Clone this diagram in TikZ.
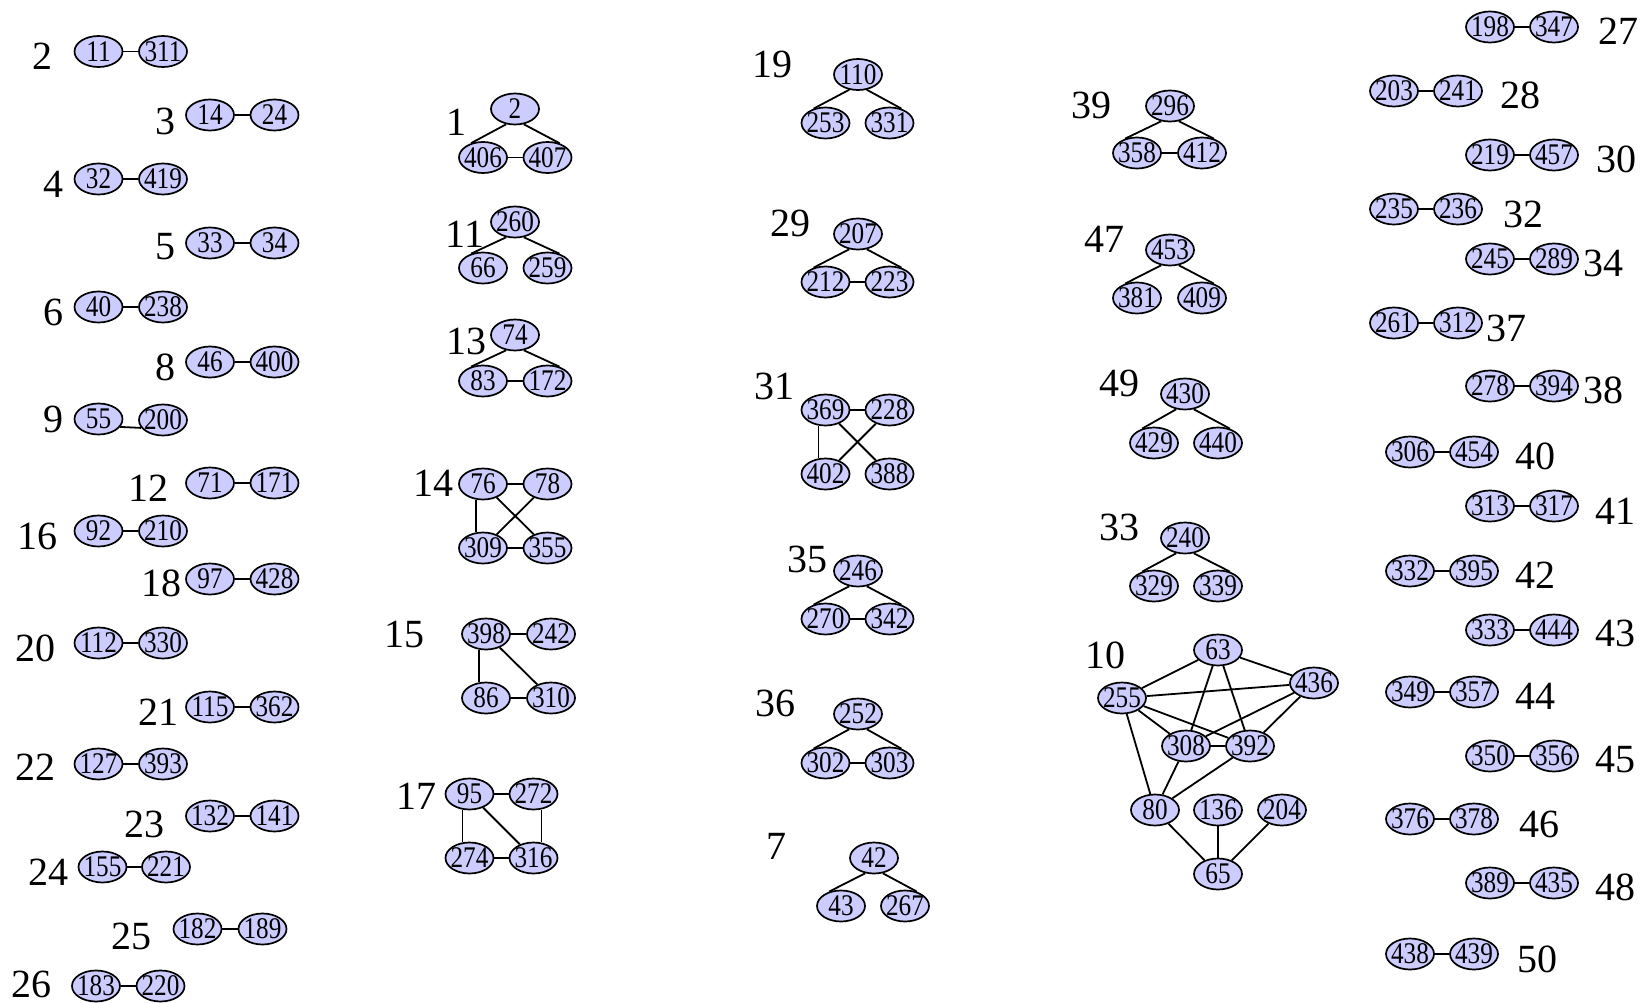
\documentclass[tikz,border=0pt]{standalone}
\usepackage{fontspec}
\usepackage{graphicx}
\setmainfont{Liberation Serif}
\usetikzlibrary{shapes.geometric}
\definecolor{vfill}{RGB}{204,204,255}
\tikzset{
  v/.style={ellipse, draw=black, fill=vfill, line width=1.7pt, minimum width=48pt, minimum height=31pt, inner sep=0pt, font=\fontsize{30}{30}\selectfont},
  cl/.style={inner sep=0pt, font=\fontsize{40}{40}\selectfont},
  e/.style={line width=1.8pt, draw=black}
}
\newcommand\mkv[3]{\node[v] (n#1) at (#2,#3) {\makebox[0pt]{\scalebox{0.84}[1]{#1}}};}
\newcommand\mkl[3]{\node[cl] (l#1) at (#2,#3) {#1};}
\newcommand\ed[2]{\draw[e] (n#1) -- (n#2);}
\newcommand\trl[2]{\draw[e] (n#1.240) -- (n#2.130);}
\newcommand\trr[2]{\draw[e] (n#1.300) -- (n#2.50);}
\newcommand\vrt[3]{\draw[e] ([xshift=#3pt]n#1.south) -- ([xshift=#3pt]n#2.north);}
\begin{document}
\begin{tikzpicture}[x=1pt,y=-1pt]
\useasboundingbox[fill=white] (0,0) rectangle (1645,1003);
% ---------- column 1 ----------
\mkl{2}{42}{56}   \mkv{11}{98.5}{51.5}  \mkv{311}{163}{51.5}  \ed{11}{311}
\mkl{3}{165}{121} \mkv{14}{210}{115}    \mkv{24}{274.5}{115}  \ed{14}{24}
\mkl{4}{53}{184}  \mkv{32}{98.5}{179}   \mkv{419}{163}{179}   \ed{32}{419}
\mkl{5}{165}{247} \mkv{33}{210}{243}    \mkv{34}{274.5}{243}  \ed{33}{34}
\mkl{6}{53}{312}  \mkv{40}{98.5}{307}   \mkv{238}{163}{307}   \ed{40}{238}
\mkl{8}{165}{367} \mkv{46}{210}{362}    \mkv{400}{274.5}{362} \ed{46}{400}
\mkl{9}{53}{419}  \mkv{55}{98.5}{419}   \mkv{200}{163}{420}
\draw[e] (n55.-20) -- (n200.200);
\mkl{12}{148}{488} \mkv{71}{210}{483}   \mkv{171}{274.5}{483} \ed{71}{171}
\mkl{16}{37}{536} \mkv{92}{98.5}{531}   \mkv{210}{163}{531}   \ed{92}{210}
\mkl{18}{161}{583} \mkv{97}{210}{579}   \mkv{428}{274.5}{579} \ed{97}{428}
\mkl{20}{36}{648} \mkv{112}{98.5}{643}  \mkv{330}{163}{643}   \ed{112}{330}
\mkl{21}{158}{712} \mkv{115}{210}{707}  \mkv{362}{274.5}{707} \ed{115}{362}
\mkl{22}{35}{767} \mkv{127}{98.5}{764}  \mkv{393}{163}{764}   \ed{127}{393}
\mkl{23}{144}{824} \mkv{132}{210}{816}  \mkv{141}{274.5}{816} \ed{132}{141}
\mkl{24}{48}{872} \mkv{155}{102.5}{867} \mkv{221}{166}{867}   \ed{155}{221}
\mkl{25}{131}{936} \mkv{182}{197.5}{929} \mkv{189}{262.5}{929} \ed{182}{189}
\mkl{26}{32}{984} \mkv{183}{96}{986}    \mkv{220}{160.5}{986} \ed{183}{220}
% ---------- column 2 ----------
\mkl{1}{456.5}{122} \mkv{2}{515}{109} \mkv{406}{483}{157.5} \mkv{407}{547.5}{157.5}
\trl{2}{406} \trr{2}{407} \ed{406}{407}
\mkl{11}{465}{234} \mkv{260}{515}{222} \mkv{66}{483}{268} \mkv{259}{547.5}{268}
\trl{260}{66} \trr{260}{259}
\mkl{13}{466.5}{341} \mkv{74}{515}{335} \mkv{83}{483}{381} \mkv{172}{547.5}{381}
\trl{74}{83} \trr{74}{172} \ed{83}{172}
\mkl{14}{433.5}{483} \mkv{76}{483}{484} \mkv{78}{547.5}{484} \mkv{309}{483}{548} \mkv{355}{547.5}{548}
\ed{76}{78} \vrt{76}{309}{-7} \ed{76}{355} \ed{78}{309} \ed{309}{355}
\mkl{15}{404}{634} \mkv{398}{486}{634} \mkv{242}{551}{634} \mkv{86}{486}{698} \mkv{310}{551}{698}
\ed{398}{242} \vrt{398}{86}{-7} \ed{398}{310} \ed{86}{310}
\mkl{17}{416.5}{796} \mkv{95}{469.5}{794} \mkv{272}{533.5}{794} \mkv{274}{469.5}{858} \mkv{316}{533.5}{858}
\ed{95}{272} \vrt{95}{274}{-7} \ed{95}{316} \vrt{272}{316}{8} \ed{274}{316}
% ---------- column 3 ----------
\mkl{19}{772}{64} \mkv{110}{858}{74.5} \mkv{253}{825.5}{123} \mkv{331}{889.5}{123}
\trl{110}{253} \trr{110}{331}
\mkl{29}{790}{223} \mkv{207}{858}{234} \mkv{212}{825.5}{282} \mkv{223}{889.5}{282}
\trl{207}{212} \trr{207}{223} \ed{212}{223}
\mkl{31}{774}{386} \mkv{369}{825.5}{410} \mkv{228}{889.5}{410} \mkv{402}{825.5}{474} \mkv{388}{889.5}{474}
\ed{369}{228} \vrt{369}{402}{-7} \ed{369}{388} \ed{228}{402}
\mkl{35}{807}{559} \mkv{246}{858}{571} \mkv{270}{825.5}{619} \mkv{342}{889.5}{619}
\trl{246}{270} \trr{246}{342} \ed{270}{342}
\mkl{36}{775}{703} \mkv{252}{858}{714} \mkv{302}{825.5}{763} \mkv{303}{889.5}{763}
\trl{252}{302} \trr{252}{303} \ed{302}{303}
\mkl{7}{776}{846} \mkv{42}{874}{858} \mkv{43}{841}{906} \mkv{267}{905}{906}
\trl{42}{43} \trr{42}{267}
% ---------- column 4 ----------
\mkl{39}{1091}{105} \mkv{296}{1170}{106} \mkv{358}{1137}{153} \mkv{412}{1202}{153}
\trl{296}{358} \trr{296}{412} \ed{358}{412}
\mkl{47}{1104}{239} \mkv{453}{1170}{250} \mkv{381}{1137}{298} \mkv{409}{1202}{298}
\trl{453}{381} \trr{453}{409}
\mkl{49}{1119}{383} \mkv{430}{1185}{394} \mkv{429}{1154}{443} \mkv{440}{1218}{443}
\trl{430}{429} \trr{430}{440}
\mkl{33}{1119}{527} \mkv{240}{1185}{538} \mkv{329}{1154}{586} \mkv{339}{1218}{586}
\trl{240}{329} \trr{240}{339}
\mkl{10}{1105}{655} \mkv{63}{1218}{650} \mkv{436}{1314}{683} \mkv{255}{1122}{698}
\mkv{308}{1186}{746} \mkv{392}{1250}{746} \mkv{80}{1155}{810} \mkv{136}{1218}{810}
\mkv{204}{1282}{810} \mkv{65}{1218}{874}
\ed{255}{63} \ed{63}{436} \ed{63}{308} \ed{63}{392} \ed{255}{436} \ed{255}{308}
\ed{255}{392} \ed{436}{308} \ed{436}{392} \ed{308}{392} \ed{255}{80} \ed{308}{80}
\ed{392}{80} \ed{80}{65} \ed{136}{65} \ed{204}{65}
% ---------- column 5 ----------
\mkv{198}{1490}{27}   \mkv{347}{1554}{27}   \mkl{27}{1618}{31.5}  \ed{198}{347}
\mkv{203}{1394}{91}   \mkv{241}{1458}{91}   \mkl{28}{1520}{95.5}  \ed{203}{241}
\mkv{219}{1490}{155}  \mkv{457}{1554}{155}  \mkl{30}{1616}{159.5} \ed{219}{457}
\mkv{235}{1394}{209}  \mkv{236}{1458}{209}  \mkl{32}{1523}{214}   \ed{235}{236}
\mkv{245}{1490}{259}  \mkv{289}{1554}{259}  \mkl{34}{1603}{263.5} \ed{245}{289}
\mkv{261}{1394}{323}  \mkv{312}{1458}{323}  \mkl{37}{1506}{328}   \ed{261}{312}
\mkv{278}{1490}{386}  \mkv{394}{1554}{386}  \mkl{38}{1603}{390}   \ed{278}{394}
\mkv{306}{1410}{452}  \mkv{454}{1474}{452}  \mkl{40}{1535}{456}   \ed{306}{454}
\mkv{313}{1490}{506}  \mkv{317}{1554}{506}  \mkl{41}{1615}{511}   \ed{313}{317}
\mkv{332}{1410}{571}  \mkv{395}{1474}{571}  \mkl{42}{1535}{575}   \ed{332}{395}
\mkv{333}{1490}{630}  \mkv{444}{1554}{630}  \mkl{43}{1615}{633}   \ed{333}{444}
\mkv{349}{1410}{692}  \mkv{357}{1474}{692}  \mkl{44}{1535}{696.5} \ed{349}{357}
\mkv{350}{1490}{756}  \mkv{356}{1554}{756}  \mkl{45}{1615}{760}   \ed{350}{356}
\mkv{376}{1410}{819}  \mkv{378}{1474}{819}  \mkl{46}{1539}{824.5} \ed{376}{378}
\mkv{389}{1490}{883}  \mkv{435}{1554}{883}  \mkl{48}{1615}{887.5} \ed{389}{435}
\mkv{438}{1410}{954}  \mkv{439}{1474}{954}  \mkl{50}{1537}{959}   \ed{438}{439}
\end{tikzpicture}
\end{document}
